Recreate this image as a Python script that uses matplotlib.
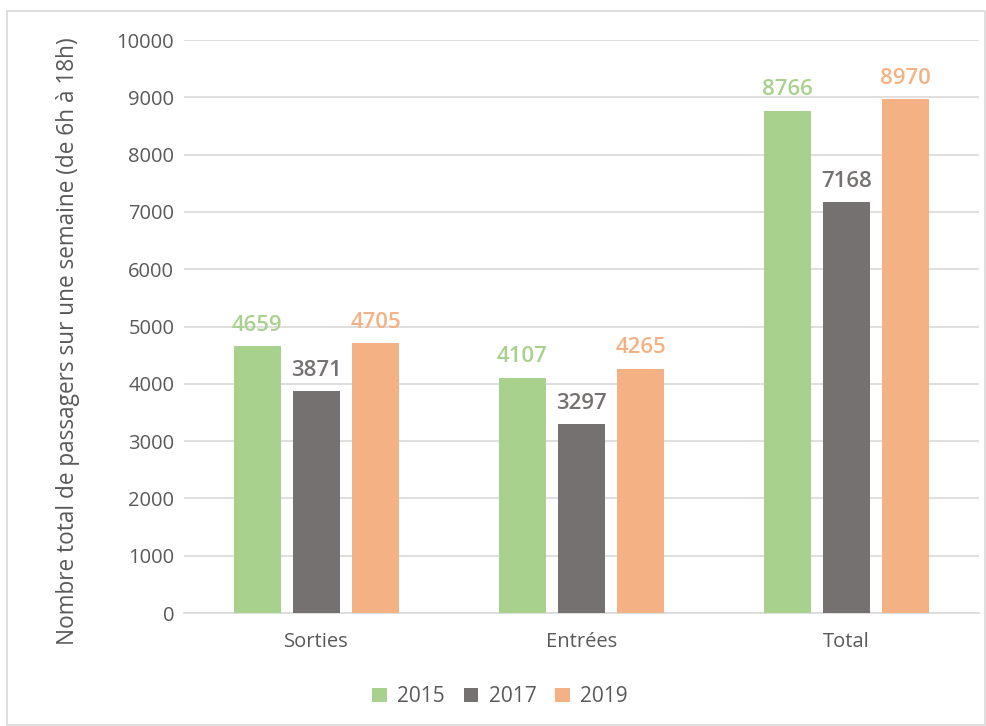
import matplotlib
matplotlib.use("Agg")
import matplotlib.pyplot as plt
from matplotlib.patches import Rectangle
import numpy as np

plt.rcParams['font.family'] = ['Open Sans', 'DejaVu Sans']

categories = ["Sorties", "Entrées", "Total"]
years = ["2015", "2017", "2019"]
values_2015 = [4659, 4107, 8766]
values_2017 = [3871, 3297, 7168]
values_2019 = [4705, 4265, 8970]
series = [values_2015, values_2017, values_2019]
colors = ["#A9D18E", "#767171", "#F4B183"]
yticks = list(range(0, 10001, 1000))

fig = plt.figure(figsize=(9.86, 7.26), dpi=100)
ax = fig.add_axes([0.1866, 0.1556, 0.8063, 0.7893])

x = np.arange(len(categories))
width = 0.177
step = 0.223
text_color = "#595959"

for i, (vals, col, yr) in enumerate(zip(series, colors, years)):
    pos = x + (i - 1) * step
    ax.bar(pos, vals, width=width, color=col, label=yr, zorder=3)
    for px, v in zip(pos, vals):
        ax.annotate(f"{v}", (px, v), xytext=(0, 7.5), textcoords="offset points",
                    ha="center", va="bottom", color=col, fontsize=16,
                    fontweight="semibold", zorder=4)

ax.set_xlim(-0.5, 2.5)
ax.set_ylim(0, 10000)
ax.set_yticks(yticks)
ax.set_xticks(x)
ax.set_xticklabels(categories)
ax.grid(axis="y", color="#D9D9D9", linewidth=1.2, zorder=0)
for s in ["top", "right", "left"]:
    ax.spines[s].set_visible(False)
ax.spines["bottom"].set_color("#D9D9D9")
ax.spines["bottom"].set_linewidth(1.2)
ax.tick_params(axis="both", length=0, colors=text_color, labelsize=14.5)
ax.tick_params(axis="y", pad=7)
ax.tick_params(axis="x", pad=14)

fig.text(0.069, 0.53, "Nombre total de passagers sur une semaine (de 6h à 18h)",
         rotation=90, ha="center", va="center", color=text_color, fontsize=16.3)

leg = fig.legend(loc="center", bbox_to_anchor=(0.507, 0.04), ncol=3, frameon=False,
                 fontsize=15, handlelength=0.7, handleheight=0.7,
                 columnspacing=0.9, handletextpad=0.5)
for t in leg.get_texts():
    t.set_color(text_color)

fig.patches.append(Rectangle((0.007, 0.002), 0.992, 0.983, transform=fig.transFigure,
                             fill=False, edgecolor="#D9D9D9", linewidth=1.2))

fig.savefig("out.png", dpi=100)
